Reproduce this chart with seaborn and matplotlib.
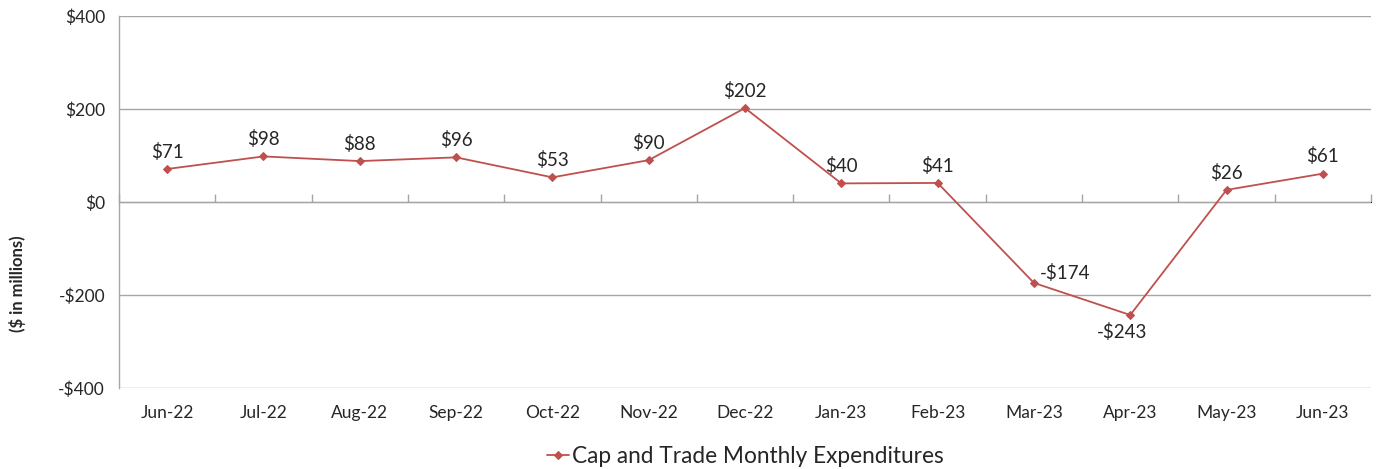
import matplotlib
matplotlib.use("Agg")
import matplotlib.pyplot as plt
import seaborn as sns
import pandas as pd
import numpy as np

months = ["Jun-22", "Jul-22", "Aug-22", "Sep-22", "Oct-22", "Nov-22", "Dec-22",
          "Jan-23", "Feb-23", "Mar-23", "Apr-23", "May-23", "Jun-23"]
values = [71, 98, 88, 96, 53, 90, 202, 40, 41, -174, -243, 26, 61]
series_name = "Cap and Trade Monthly Expenditures"
y_ticks = [-400, -200, 0, 200, 400]

sns.set_style("white")
plt.rcParams['font.family'] = ['Lato', 'DejaVu Sans']

color = "#C0504D"
grid_c = "#A6A6A6"

df = pd.DataFrame({"idx": np.arange(len(months)), "value": values, "series": series_name})

fig = plt.figure(figsize=(13.8, 4.69), dpi=100)
ax = fig.add_axes([119/1380, 1-388/469, (1371-119)/1380, (388-16)/469])

sns.lineplot(data=df, x="idx", y="value", hue="series", palette=[color], ax=ax,
             marker="D", markersize=4, markeredgecolor=color, linewidth=1.3)

ax.set_xlim(-0.5, len(months)-0.5)
ax.set_ylim(-400, 400)
ax.set_yticks(y_ticks)
ax.set_yticklabels([("-$%d" % abs(v)) if v < 0 else "$%d" % v for v in y_ticks], fontsize=12.5)
ax.set_xticks(np.arange(len(months)))
ax.set_xticklabels(months, fontsize=12.5)
ax.tick_params(axis="x", length=0, pad=12)
ax.tick_params(axis="y", length=6, color=grid_c, width=1, direction="out", pad=4)
ax.yaxis.grid(True, color=grid_c, linewidth=1)
ax.set_axisbelow(True)
for s in ["top", "right", "bottom"]:
    ax.spines[s].set_visible(False)
ax.spines["left"].set_color(grid_c)
ax.spines["left"].set_linewidth(1)
ax.set_xlabel("")
ax.set_ylabel("($ in millions)", fontsize=12, fontweight="bold")
ax.yaxis.set_label_coords(-0.0743, 0.28)

# zero axis with category boundary ticks
sec = ax.secondary_xaxis(0.5)
sec.set_xticks(np.arange(-0.5, len(months)+0.5, 1.0))
sec.set_xticklabels([])
sec.tick_params(axis="x", length=6, color=grid_c, direction="out", width=1)
sec.spines["bottom"].set_color(grid_c)
sec.spines["bottom"].set_linewidth(1)

for i, v in enumerate(values):
    lab = ("-$%d" % abs(v)) if v < 0 else "$%d" % v
    if v == -174:
        ax.annotate(lab, (i, v), xytext=(4, 1), textcoords="offset points",
                    ha="left", va="bottom", fontsize=13.5)
    elif v == -243:
        ax.annotate(lab, (i, v), xytext=(-6, -6), textcoords="offset points",
                    ha="center", va="top", fontsize=13.5)
    else:
        ax.annotate(lab, (i, v), xytext=(0, 6), textcoords="offset points",
                    ha="center", va="bottom", fontsize=13.5)

handles, labels = ax.get_legend_handles_labels()
ax.legend(handles, labels, loc="center", bbox_to_anchor=(0.5, -0.183), frameon=False,
          fontsize=16.3, handlelength=1.0, handletextpad=0.1)

fig.savefig("out.png", dpi=100)
